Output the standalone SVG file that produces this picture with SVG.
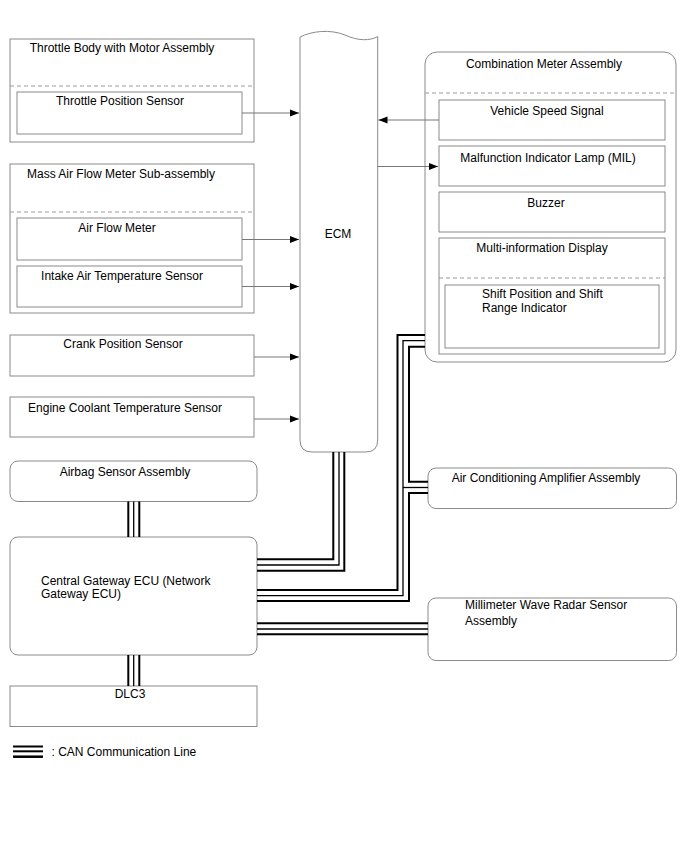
<svg xmlns="http://www.w3.org/2000/svg" width="688" height="852" viewBox="0 0 688 852">
<style>
.b{fill:#fff;stroke:#8a8a8a;stroke-width:1}
.d{fill:none;stroke:#9a9a9a;stroke-width:1;stroke-dasharray:4,3}
.t{font-family:"Liberation Sans",Arial,sans-serif;font-size:12px;fill:#000}
.m{text-anchor:middle}
.w{fill:none;stroke:#777;stroke-width:1}
.k{fill:none;stroke:#000;stroke-width:2}
.n{fill:none;stroke:#000;stroke-width:1.3}
</style>
<defs>
<marker id="ah" markerWidth="10" markerHeight="8" refX="9" refY="4" orient="auto" markerUnits="userSpaceOnUse">
<path d="M0,0.5 L9,4 L0,7.5 Z" fill="#000"/>
</marker>
</defs>
<rect width="688" height="852" fill="#fff"/>

<g id="throttle-body">
<rect class="b" x="10" y="39" width="244" height="103"/>
<line class="d" x1="10" y1="86" x2="254" y2="86"/>
<text class="t m" x="122" y="52">Throttle Body with Motor Assembly</text>
<g id="throttle-position-sensor">
<rect class="b" x="17" y="92" width="225" height="42"/>
<text class="t m" x="120" y="105">Throttle Position Sensor</text>
</g>
</g>

<g id="maf-sub-assembly">
<rect class="b" x="10" y="164" width="244" height="149"/>
<line class="d" x1="10" y1="212" x2="254" y2="212"/>
<text class="t m" x="121" y="178">Mass Air Flow Meter Sub-assembly</text>
<g id="air-flow-meter">
<rect class="b" x="17" y="218" width="225" height="42"/>
<text class="t m" x="117" y="232">Air Flow Meter</text>
</g>
<g id="intake-air-temp">
<rect class="b" x="17" y="266" width="225" height="41"/>
<text class="t m" x="122" y="280">Intake Air Temperature Sensor</text>
</g>
</g>

<g id="crank-position-sensor">
<rect class="b" x="10" y="335" width="244" height="41"/>
<text class="t m" x="123" y="348">Crank Position Sensor</text>
</g>

<g id="engine-coolant-temp">
<rect class="b" x="10" y="397" width="244" height="40"/>
<text class="t m" x="125" y="412">Engine Coolant Temperature Sensor</text>
</g>

<g id="ecm">
<path class="b" d="M300,37 C312,31 330,29 345,35 C358,41 370,41 377.7,36.5 L377.7,440 Q377.7,452 365.7,452 L312,452 Q300,452 300,440 Z"/>
<text class="t m" x="338" y="238">ECM</text>
</g>

<g id="combination-meter">
<rect class="b" x="425" y="52" width="251" height="310" rx="12" ry="12"/>
<line class="d" x1="425" y1="93" x2="676" y2="93"/>
<text class="t m" x="544" y="68">Combination Meter Assembly</text>
<g id="vehicle-speed-signal">
<rect class="b" x="439" y="100" width="226" height="40"/>
<text class="t m" x="547" y="115">Vehicle Speed Signal</text>
</g>
<g id="mil">
<rect class="b" x="439" y="146" width="226" height="40"/>
<text class="t m" x="548" y="162">Malfunction Indicator Lamp (MIL)</text>
</g>
<g id="buzzer">
<rect class="b" x="439" y="192" width="226" height="40"/>
<text class="t m" x="546" y="207">Buzzer</text>
</g>
<g id="multi-information-display">
<rect class="b" x="439" y="238" width="226" height="116"/>
<line class="d" x1="439" y1="278" x2="665" y2="278"/>
<text class="t m" x="542" y="252">Multi-information Display</text>
<g id="shift-indicator">
<rect class="b" x="445" y="285" width="214" height="63"/>
<text class="t" x="482" y="298">Shift Position and Shift</text>
<text class="t" x="482" y="312">Range Indicator</text>
</g>
</g>
</g>

<g id="ac-amplifier">
<rect class="b" x="428" y="468" width="248.5" height="40.5" rx="8" ry="8"/>
<text class="t m" x="546" y="482">Air Conditioning Amplifier Assembly</text>
</g>

<g id="mmw-radar">
<rect class="b" x="428" y="598" width="248.5" height="62.5" rx="8" ry="8"/>
<text class="t" x="465" y="609">Millimeter Wave Radar Sensor</text>
<text class="t" x="465" y="625">Assembly</text>
</g>

<g id="airbag-sensor">
<rect class="b" x="10" y="461" width="247" height="40.5" rx="8" ry="8"/>
<text class="t m" x="125" y="476">Airbag Sensor Assembly</text>
</g>

<g id="central-gateway">
<rect class="b" x="10" y="537" width="247" height="118" rx="8" ry="8"/>
<text class="t" x="41" y="585">Central Gateway ECU (Network</text>
<text class="t" x="41" y="598">Gateway ECU)</text>
</g>

<g id="dlc3">
<rect class="b" x="10" y="686" width="247" height="40.5"/>
<text class="t m" x="130" y="698">DLC3</text>
</g>

<g id="connectors">
<line class="w" x1="242" y1="113" x2="299" y2="113" marker-end="url(#ah)"/>
<line class="w" x1="242" y1="239.5" x2="299" y2="239.5" marker-end="url(#ah)"/>
<line class="w" x1="242" y1="286.5" x2="299" y2="286.5" marker-end="url(#ah)"/>
<line class="w" x1="254" y1="357" x2="299" y2="357" marker-end="url(#ah)"/>
<line class="w" x1="254" y1="419" x2="299" y2="419" marker-end="url(#ah)"/>
<line class="w" x1="439" y1="120" x2="378.5" y2="120" marker-end="url(#ah)"/>
<line class="w" x1="377.7" y1="166.5" x2="438" y2="166.5" marker-end="url(#ah)"/>

<!-- CAN: airbag - gateway -->
<line class="k" x1="128.3" y1="501.5" x2="128.3" y2="537"/>
<line class="n" x1="133.7" y1="501.5" x2="133.7" y2="537"/>
<line class="k" x1="139.3" y1="501.5" x2="139.3" y2="537"/>
<!-- CAN: gateway - DLC3 -->
<line class="k" x1="128.3" y1="655" x2="128.3" y2="686"/>
<line class="n" x1="133.7" y1="655" x2="133.7" y2="686"/>
<line class="k" x1="139.3" y1="655" x2="139.3" y2="686"/>
<!-- CAN: gateway - ECM -->
<polyline class="k" points="257,559.3 333.3,559.3 333.3,452"/>
<polyline class="n" points="257,565 339,565 339,452"/>
<polyline class="k" points="257,570.7 344.3,570.7 344.3,452"/>
<!-- CAN: gateway - combination meter / AC -->
<polyline class="k" points="257,590 397.5,590 397.5,335 425,335"/>
<polyline class="n" points="257,595.7 403,595.7 403,340.7 425,340.7"/>
<polyline class="k" points="257,601 409,601 409,493 428,493"/>
<polyline class="k" points="425,346.7 409,346.7 409,481.7 428,481.7"/>
<line class="n" x1="403" y1="487.5" x2="428" y2="487.5"/>
<!-- CAN: gateway - radar -->
<line class="k" x1="257" y1="623.3" x2="428" y2="623.3"/>
<line class="n" x1="257" y1="629" x2="428" y2="629"/>
<line class="k" x1="257" y1="634.3" x2="428" y2="634.3"/>
</g>

<g id="legend">
<line class="k" x1="13" y1="746.5" x2="43" y2="746.5"/>
<line class="k" x1="13" y1="751.3" x2="43" y2="751.3"/>
<line class="k" x1="13" y1="756.7" x2="43" y2="756.7" style="stroke-width:2.5"/>
<text class="t" x="51.5" y="756">: CAN Communication Line</text>
</g>
</svg>
